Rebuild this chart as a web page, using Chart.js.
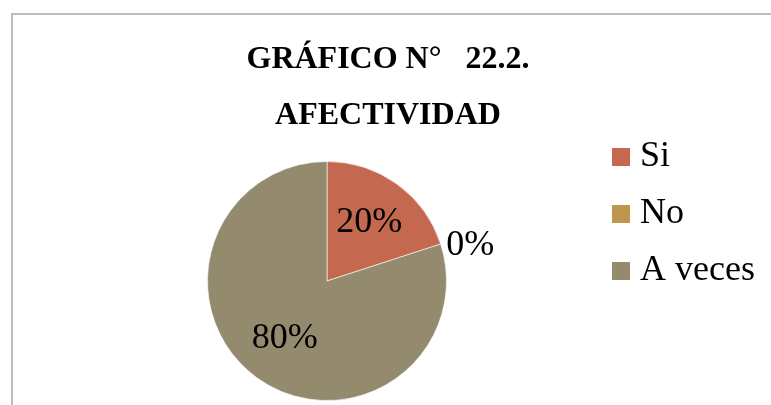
<!DOCTYPE html>
<html>
<head>
<meta charset="utf-8">
<script src="https://cdn.jsdelivr.net/npm/chart.js@4.4.0/dist/chart.umd.min.js"></script>
<style>
  body { margin: 0; background: #fff; }
  #frame {
    position: absolute; left: 11px; top: 13px; width: 770px; height: 400px;
    border-top: 2px solid #bdbdbd; border-left: 2px solid #bdbdbd;
  }
  #wrap { position: absolute; left: 0; top: 0; width: 771px; height: 405px; }
</style>
</head>
<body>
<div id="frame"></div>
<div id="wrap"><canvas id="myChart" width="771" height="405"></canvas></div>
<script>
const titleLines = ['GRÁFICO N°   22.2.', 'AFECTIVIDAD'];
const categories = ['Si', 'No', 'A veces'];
const percents = [20, 0, 80];
const sliceColors = ['rgb(196, 104, 80)', 'rgb(191, 150, 78)', 'rgb(148, 138, 110)'];

const serif = '"Liberation Serif", "Times New Roman", serif';

// title, legend and percentage labels drawn on the canvas
const decor = {
    id: 'decor',
    afterDatasetsDraw(chart) {
        const ctx = chart.ctx;
        ctx.save();
        ctx.fillStyle = '#000';
        ctx.textBaseline = 'middle';

        ctx.font = 'bold 32px ' + serif;
        ctx.textAlign = 'center';
        titleLines.forEach((line, i) => {
            ctx.fillText(line, 388, 60 + i * 56);
        });

        ctx.font = '36px ' + serif;
        ctx.textAlign = 'left';
        categories.forEach((name, i) => {
            const y = 157 + i * 57;
            ctx.fillStyle = sliceColors[i];
            ctx.fillRect(612, y - 9, 18, 18);
            ctx.fillStyle = '#000';
            ctx.fillText(name, 640, y);
        });

        const meta = chart.getDatasetMeta(0);
        meta.data.forEach((arc, i) => {
            const p = arc.getProps(['x', 'y', 'startAngle', 'endAngle', 'outerRadius'], true);
            const mid = (p.startAngle + p.endAngle) / 2;
            const text = percents[i] + '%';
            if (percents[i] === 0) {
                const r = p.outerRadius + 6;
                ctx.textAlign = 'left';
                ctx.fillText(text, p.x + Math.cos(mid) * r, p.y + Math.sin(mid) * r + 3);
            } else {
                const r = p.outerRadius * 0.6;
                ctx.textAlign = 'center';
                ctx.fillText(text, p.x + Math.cos(mid) * r, p.y + Math.sin(mid) * r);
            }
        });
        ctx.restore();
    }
};

const ctx = document.getElementById('myChart').getContext('2d');

const myChart = new Chart(ctx, {
    type: 'pie',
    data: {
        labels: categories,
        datasets: [{
            data: percents,
            backgroundColor: sliceColors,
            borderColor: 'rgba(255, 255, 255, 0.6)',
            borderWidth: 1,
            hoverOffset: 0
        }]
    },
    options: {
        responsive: false,
        animation: false,
        events: [],
        layout: {
            padding: { left: 207, right: 324, top: 161, bottom: 4 }
        },
        plugins: {
            legend: { display: false },
            title: { display: false },
            tooltip: { enabled: false }
        }
    },
    plugins: [decor]
});
</script>
</body>
</html>
